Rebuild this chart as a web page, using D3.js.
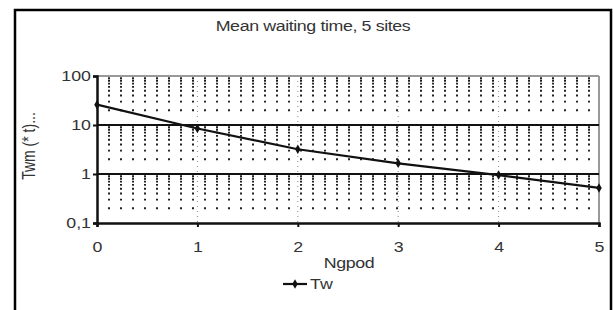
<!DOCTYPE html>
<html>
<head>
<meta charset="utf-8">
<script src="https://cdn.jsdelivr.net/npm/d3@7"></script>
<style>
  body { margin: 0; background: #fff; }
  text { font-family: "Liberation Sans", Arial, sans-serif; fill: #333; }
</style>
</head>
<body>
<svg id="chart"></svg>
<script>
var ngpod = [0, 1, 2, 3, 4, 5]
var tw = [26, 8.5, 3.2, 1.65, 0.95, 0.52]
var yTicks = [0.1, 1, 10, 100]
var yTickLabels = ["0,1", "1", "10", "100"]

var width = 613,
    height = 310

var plotLeft = 97, plotRight = 599, plotTop = 76, plotBottom = 223
// the original picture is a bit wider than tall, so text is stretched sideways
var stretch = 1.27

var svg = d3.select("#chart")
    .attr("width", width)
    .attr("height", height)

// outer frame
svg.append("rect")
    .attr("x", 15).attr("y", 10)
    .attr("width", 596).attr("height", 310)
    .attr("fill", "none")
    .attr("stroke", "#000")
    .attr("stroke-width", 2.5)

var x = d3.scaleLinear().domain([0, 5]).range([plotLeft, plotRight])
var y = d3.scaleLog().domain([0.1, 100]).range([plotBottom, plotTop])

// minor log gridlines (dotted)
var minor = []
yTicks.slice(0, 3).forEach(function(d) {
    for (var k = 2; k <= 9; k++) minor.push(d * k)
})
svg.selectAll(".minor").data(minor)
    .enter()
    .append("line")
    .attr("class", "minor")
    .attr("x1", plotLeft + 11).attr("x2", plotRight)
    .attr("y1", function(d) { return y(d) })
    .attr("y2", function(d) { return y(d) })
    .attr("stroke", "#222")
    .attr("stroke-width", 1.8)
    .attr("stroke-dasharray", "2,10")

// faint dotted verticals at integer x
svg.selectAll(".vgrid").data(ngpod.slice(1, 5))
    .enter()
    .append("line")
    .attr("x1", function(d) { return x(d) })
    .attr("x2", function(d) { return x(d) })
    .attr("y1", plotTop).attr("y2", plotBottom)
    .attr("stroke", "#888")
    .attr("stroke-width", 1)
    .attr("stroke-dasharray", "1,4")

// plot box top/right
svg.append("line").attr("x1", plotLeft).attr("x2", plotRight).attr("y1", plotTop).attr("y2", plotTop)
    .attr("stroke", "#999").attr("stroke-width", 2)
svg.append("line").attr("x1", plotRight).attr("x2", plotRight).attr("y1", plotTop).attr("y2", plotBottom)
    .attr("stroke", "#999").attr("stroke-width", 2)

// major gridlines
svg.selectAll(".major").data([1, 10])
    .enter()
    .append("line")
    .attr("x1", plotLeft).attr("x2", plotRight)
    .attr("y1", function(d) { return y(d) })
    .attr("y2", function(d) { return y(d) })
    .attr("stroke", "#111")
    .attr("stroke-width", 2)

// axes
var xAxis = d3.axisBottom(x).tickValues(ngpod).tickSize(4).tickFormat(d3.format("d"))
var gx = svg.append("g").attr("transform", "translate(0," + plotBottom + ")").call(xAxis)
gx.select(".domain").attr("stroke", "#111").attr("stroke-width", 2.5)
gx.selectAll(".tick line").attr("stroke", "#111").attr("stroke-width", 2)
gx.selectAll("text")
    .attr("font-size", 14).attr("dy", "1.55em").attr("fill", "#333")
    .attr("font-family", "Liberation Sans, Arial, sans-serif")
    .attr("transform", "scale(" + stretch + ",1)")

var yAxis = d3.axisLeft(y).tickValues(yTicks).tickSize(4)
    .tickFormat(function(d, i) { return yTickLabels[i] })
var gy = svg.append("g").attr("transform", "translate(" + plotLeft + ",0)").call(yAxis)
gy.select(".domain").attr("stroke", "#111").attr("stroke-width", 2.5)
gy.selectAll(".tick line").attr("stroke", "#111").attr("stroke-width", 2)
gy.selectAll("text")
    .attr("font-size", 14).attr("x", -6 / stretch).attr("fill", "#333")
    .attr("font-family", "Liberation Sans, Arial, sans-serif")
    .attr("transform", "scale(" + stretch + ",1)")

// line
var line = d3.line()
    .x(function(d, i) { return x(ngpod[i]) })
    .y(function(d) { return y(d) })

svg.append("path")
    .datum(tw)
    .attr("d", line)
    .attr("fill", "none")
    .attr("stroke", "#111")
    .attr("stroke-width", 2.2)

svg.selectAll(".pt").data(tw)
    .enter()
    .append("path")
    .attr("class", "pt")
    .attr("transform", function(d, i) { return "translate(" + x(ngpod[i]) + "," + y(d) + ")" })
    .attr("d", d3.symbol().type(d3.symbolDiamond).size(26))
    .attr("fill", "#111")

// titles
svg.append("text")
    .attr("transform", "translate(313,31) scale(" + stretch + ",1)")
    .attr("text-anchor", "middle")
    .attr("font-size", 14)
    .attr("letter-spacing", "-0.3")
    .text("Mean waiting time, 5 sites")

svg.append("text")
    .attr("transform", "translate(349,268) scale(" + stretch + ",1)")
    .attr("text-anchor", "middle")
    .attr("font-size", 14)
    .attr("letter-spacing", "-0.3")
    .text("Ngpod")

svg.append("text")
    .attr("transform", "translate(35,146) scale(" + stretch + ",1) rotate(-90)")
    .attr("text-anchor", "middle")
    .attr("font-size", 14)
    .text("Twm (* t)...")

// legend
svg.append("line").attr("x1", 283).attr("x2", 307).attr("y1", 284).attr("y2", 284)
    .attr("stroke", "#111").attr("stroke-width", 2.2)
svg.append("path")
    .attr("transform", "translate(295,284)")
    .attr("d", d3.symbol().type(d3.symbolDiamond).size(26))
    .attr("fill", "#111")
svg.append("text")
    .attr("transform", "translate(310,289) scale(" + stretch + ",1)")
    .attr("font-size", 14)
    .text("Tw")
</script>
</body>
</html>
